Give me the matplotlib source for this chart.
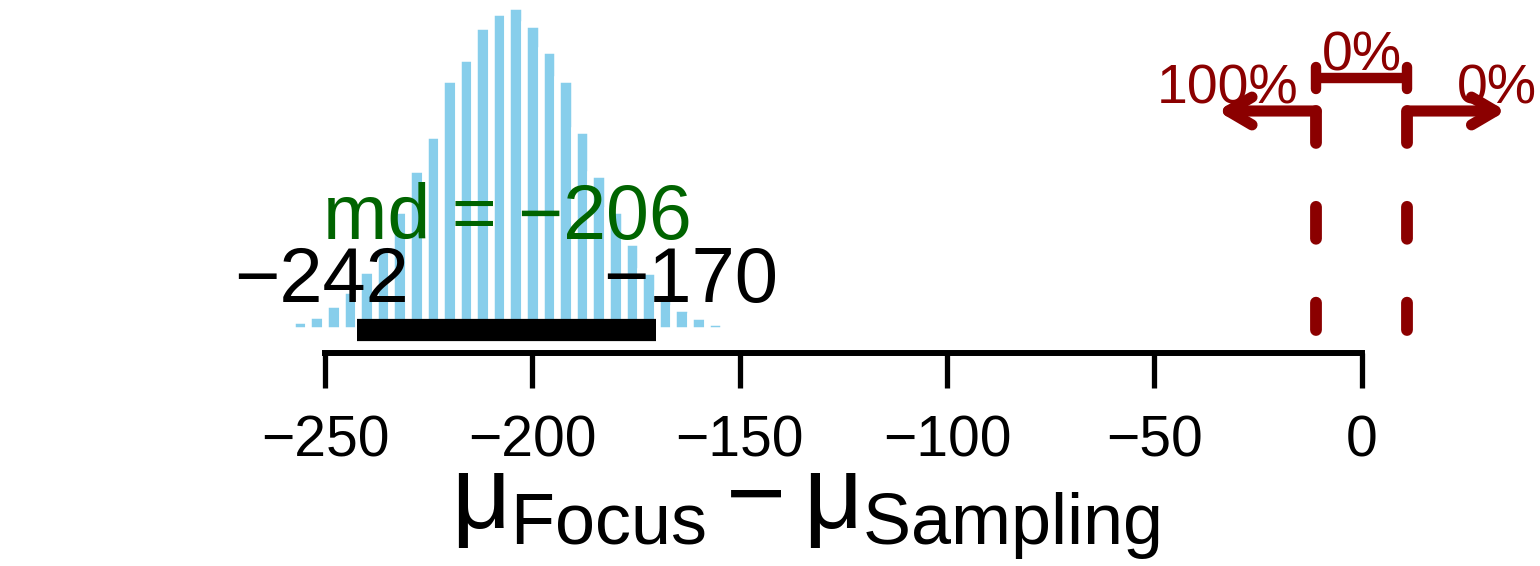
import numpy as np
import matplotlib
matplotlib.use("Agg")
import matplotlib.pyplot as plt
from matplotlib.patches import ArrowStyle

plt.rcParams['font.family'] = ['Liberation Sans', 'DejaVu Sans']
plt.rcParams['mathtext.fontset'] = 'custom'
plt.rcParams['mathtext.rm'] = 'Liberation Sans'
plt.rcParams['mathtext.it'] = 'Liberation Sans'
plt.rcParams['lines.scale_dashes'] = False

# posterior histogram of mu_Focus - mu_Sampling (bin width 4)
bin_centers = np.arange(-256, -155, 4)
counts = [10, 15, 26, 40, 60, 85, 120, 161, 195, 251, 272, 304, 318,
          324, 306, 280, 251, 200, 156, 120, 88, 59, 37, 22, 14, 8]
bin_width = 4

median = -206
hdi = [-242.4, -170.2]
rope = [-11, 11]
rope_pct = ['100%', '0%', '0%']   # below, inside, above
xticks = [-250, -200, -150, -100, -50, 0]

skyblue = '#87CEEB'
darkred = '#8B0000'
darkgreen = '#006400'

fig = plt.figure(figsize=(15.4, 5.66), dpi=100)
ax = fig.add_axes([0, 0, 1, 1])
ax.set_xlim(-328.37, 42.98)
ax.set_ylim(-236.5, 329.5)

# histogram
ax.bar(bin_centers, counts, width=bin_width, color=skyblue,
       edgecolor='white', linewidth=4.7, zorder=1)

# HDI bar
ax.plot(hdi, [0, 0], color='black', lw=16, solid_capstyle='butt', zorder=2)

fig.canvas.draw()
renderer = fig.canvas.get_renderer()
px_per_unit = fig.bbox.width / (ax.get_xlim()[1] - ax.get_xlim()[0])


def adj_text(x, y, s, frac, **kw):
    # place text so that `frac` of its width lies left of x (like R adj)
    t = ax.text(x, y, s, ha='left', va='baseline', **kw)
    w = t.get_window_extent(renderer).width / px_per_unit
    t.set_x(x - frac * w)
    return t


adj_text(hdi[0], 27.5, f'\u2212{abs(round(hdi[0]))}', 0.7, fontsize=56, zorder=3)
adj_text(hdi[1], 27.5, f'\u2212{abs(round(hdi[1]))}', 0.3, fontsize=56, zorder=3)
ax.text(median, 90, f'md = \u2212{abs(median)}', ha='center', va='baseline',
        fontsize=55.5, color=darkgreen, zorder=3)

# ROPE lines and arrows
arrow_y = 218.5
for r in rope:
    ax.plot([r, r], [arrow_y, 0], color=darkred, lw=8.5,
            linestyle=(0, (23, 46)), dash_capstyle='round', zorder=2)

astyle = ArrowStyle('->', head_length=0.85, head_width=0.5)
for start, end in [(rope[0], -34.8), (rope[1], 34.8)]:
    ax.annotate('', xy=(end, arrow_y), xytext=(start, arrow_y),
                arrowprops=dict(arrowstyle=astyle, mutation_scale=20, lw=8,
                                color=darkred, shrinkA=0, shrinkB=0,
                                capstyle='round', joinstyle='round'))

bar_y = 251.2
ax.plot(rope, [bar_y, bar_y], color=darkred, lw=7.5, solid_capstyle='butt')
for r in rope:
    ax.plot([r, r], [bar_y - 11, bar_y + 11], color=darkred, lw=7.5,
            solid_capstyle='round')

ax.text(-32.4, 226.2, rope_pct[0], ha='center', va='baseline', fontsize=40, color=darkred)
ax.text(0, 258.8, rope_pct[1], ha='center', va='baseline', fontsize=40, color=darkred)
ax.text(32.5, 226.2, rope_pct[2], ha='center', va='baseline', fontsize=40, color=darkred)

# x axis
for side in ['left', 'right', 'top']:
    ax.spines[side].set_visible(False)
ax.spines['bottom'].set_position(('data', -23.5))
ax.spines['bottom'].set_bounds(xticks[0], xticks[-1])
ax.spines['bottom'].set_linewidth(4.3)
ax.set_yticks([])
ax.set_xticks(xticks)
ax.set_xticklabels([f'\u2212{abs(t)}' if t < 0 else str(t) for t in xticks])
ax.tick_params(axis='x', direction='out', length=25, width=3.8,
               labelsize=41, pad=19.5)
ax.patch.set_alpha(0)

ax.text(-134.3, -199.5, r'$μ_{\mathrm{Focus}} - μ_{\mathrm{Sampling}}$',
        ha='center', va='baseline', fontsize=74)

plt.savefig('out.png', dpi=100)
